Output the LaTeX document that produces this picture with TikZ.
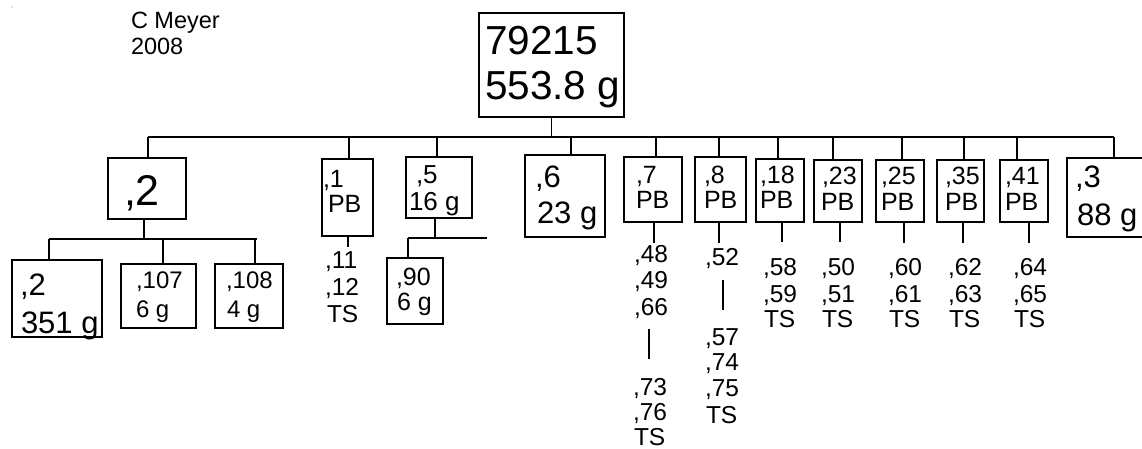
\documentclass[tikz,border=0pt]{standalone}
\usepackage{fontspec}
\setmainfont{Liberation Sans}
\tikzset{
  ln/.style={line width=1.2pt},
  box/.style={draw, line width=1.2pt, inner sep=0pt, outer sep=0pt, anchor=north west},
  tx/.style={anchor=base west, inner sep=0pt, outer sep=0pt},
  fa/.style={font=\fontsize{23.5}{26}\selectfont},
  fb/.style={font=\fontsize{40.5}{44}\selectfont},
  fc/.style={font=\fontsize{43}{44}\selectfont},
  fd/.style={font=\fontsize{31}{36}\selectfont},
  fe/.style={font=\fontsize{24}{28}\selectfont},
  f5/.style={font=\fontsize{26}{28}\selectfont},
  f9/.style={font=\fontsize{25}{28}\selectfont},
  ff/.style={font=\fontsize{25}{25}\selectfont},
  fg/.style={font=\fontsize{24.5}{26}\selectfont},
}
\newcommand\putline[5][]{\node[tx,#1] (#2) at (#3,#4) {#5};}
\begin{document}
\begin{tikzpicture}[x=1pt,y=-1pt]
\useasboundingbox (0,0) rectangle (1142,449);
\clip (0,0) rectangle (1142,449);
\fill[gray] (12,7) circle (0.6);
% header
\putline[fa]{m1}{131}{29}{C Meyer}
\putline[fa]{m2}{131}{55}{2008}
% boxes
\node[box, minimum width=145pt, minimum height=104pt] (top) at (479,13) {};
\node[box, minimum width=78pt, minimum height=61pt] (b2) at (108,158) {};
\node[box, minimum width=90pt, minimum height=77pt] (b2s) at (12,260) {};
\node[box, minimum width=75pt, minimum height=64pt] (b107) at (121,264) {};
\node[box, minimum width=68pt, minimum height=64pt] (b108) at (215,264) {};
\node[box, minimum width=51pt, minimum height=77pt] (b1) at (322,159) {};
\node[box, minimum width=66pt, minimum height=61pt] (b5) at (406,157) {};
\node[box, minimum width=56pt, minimum height=66pt] (b90) at (387,258) {};
\node[box, minimum width=80pt, minimum height=82pt] (b6) at (525,155) {};
\node[box, minimum width=58pt, minimum height=65pt] (b7) at (624,157) {};
\node[box, minimum width=51pt, minimum height=65pt] (b8) at (695,157) {};
\node[box, minimum width=48pt, minimum height=63pt] (b18) at (756,159) {};
\node[box, minimum width=48pt, minimum height=62pt] (b23) at (814,160) {};
\node[box, minimum width=48pt, minimum height=62pt] (b25) at (876,160) {};
\node[box, minimum width=47pt, minimum height=62pt] (b35) at (937,160) {};
\node[box, minimum width=48pt, minimum height=62pt] (b41) at (1000,160) {};
\node[box, minimum width=100pt, minimum height=79pt] (b3) at (1067,158) {};
% box texts
\putline[fb]{top1}{485}{55}{79215}
\putline[fb]{top2}{485}{100}{553.8 g}
\putline[fc]{b2t}{124}{205}{,2}
\putline[fd]{b2s1}{20}{295}{,2}
\putline[fd]{b2s2}{21}{333}{351 g}
\putline[fe]{b107a}{136}{288}{,107}
\putline[fe]{b107b}{136}{317}{6 g}
\putline[fe]{b108a}{226}{288}{,108}
\putline[fe]{b108b}{227}{317}{4 g}
\putline[ff]{b1a}{323}{187}{,1}
\putline[ff]{b1b}{328}{212}{PB}
\putline[f5]{b5a}{416}{183}{,5}
\putline[f5]{b5b}{409}{210}{16 g}
\putline[f9]{b90a}{396}{285}{,90}
\putline[f9]{b90b}{397}{310}{6 g}
\putline[fd]{b6a}{535}{188}{,6}
\putline[fd]{b6b}{537}{223}{23 g}
\putline[ff]{b7a}{636}{183}{,7}
\putline[ff]{b7b}{636}{208}{PB}
\putline[ff]{b8a}{704}{183}{,8}
\putline[ff]{b8b}{704}{208}{PB}
\putline[ff]{b18a}{760}{183}{,18}
\putline[ff]{b18b}{760}{208}{PB}
\putline[ff]{b23a}{822}{185}{,23}
\putline[ff]{b23b}{821}{210}{PB}
\putline[ff]{b25a}{881}{185}{,25}
\putline[ff]{b25b}{881}{210}{PB}
\putline[ff]{b35a}{945}{185}{,35}
\putline[ff]{b35b}{945}{210}{PB}
\putline[ff]{b41a}{1005}{185}{,41}
\putline[ff]{b41b}{1005}{210}{PB}
\putline[fd]{b3a}{1075}{187}{,3}
\putline[fd]{b3b}{1077}{225}{88 g}
% lists
\putline[fg]{l1a}{325}{268}{,11}
\putline[fg]{l1b}{325}{295}{,12}
\putline[fg]{l1c}{327}{322}{TS}
\putline[fg]{l7a}{634}{262}{,48}
\putline[fg]{l7b}{634}{288}{,49}
\putline[fg]{l7c}{634}{315}{,66}
\putline[fg]{l7d}{633}{395}{,73}
\putline[fg]{l7e}{633}{420}{,76}
\putline[fg]{l7f}{634}{445}{TS}
\putline[fg]{l8a}{705}{265}{,52}
\putline[fg]{l8b}{705}{345}{,57}
\putline[fg]{l8c}{705}{370}{,74}
\putline[fg]{l8d}{705}{396}{,75}
\putline[fg]{l8e}{706}{423}{TS}
\putline[fg]{l18a}{763}{275}{,58}
\putline[fg]{l18b}{763}{302}{,59}
\putline[fg]{l18c}{764}{327}{TS}
\putline[fg]{l23a}{821}{275}{,50}
\putline[fg]{l23b}{821}{302}{,51}
\putline[fg]{l23c}{822}{327}{TS}
\putline[fg]{l25a}{888}{275}{,60}
\putline[fg]{l25b}{888}{302}{,61}
\putline[fg]{l25c}{889}{327}{TS}
\putline[fg]{l35a}{948}{275}{,62}
\putline[fg]{l35b}{948}{302}{,63}
\putline[fg]{l35c}{949}{327}{TS}
\putline[fg]{l41a}{1013}{275}{,64}
\putline[fg]{l41b}{1013}{302}{,65}
\putline[fg]{l41c}{1014}{327}{TS}
% bus coordinates
\coordinate (busL) at (148,137);
\coordinate (busR) at (1114,137);
\coordinate (bus2L) at (49,239);
\coordinate (bus2R) at (257,239);
\coordinate (bus5L) at (408,238);
\coordinate (bus5R) at (487,238);
\coordinate (e1) at (348,247);
\coordinate (e7) at (654,243);
\coordinate (e8) at (719,243);
\coordinate (e18) at (782,242);
\coordinate (e23) at (840,242);
\coordinate (e25) at (904,243);
\coordinate (e35) at (963,243);
\coordinate (e41) at (1029,243);
\coordinate (g7a) at (649,329);
\coordinate (g7b) at (649,359);
\coordinate (g8a) at (723,280);
\coordinate (g8b) at (723,310);
% connectors
\draw[ln] (top.south) -- (top.south |- busL);
\draw[ln] (busL) -- (busR);
\draw[ln] ([xshift=40pt]b2.north west) -- ([xshift=40pt]b2.north west |- busL);
\draw[ln] ([xshift=27pt]b1.north west) -- ([xshift=27pt]b1.north west |- busL);
\draw[ln] ([xshift=31pt]b5.north west) -- ([xshift=31pt]b5.north west |- busL);
\draw[ln] ([xshift=46pt]b6.north west) -- ([xshift=46pt]b6.north west |- busL);
\draw[ln] ([xshift=32pt]b7.north west) -- ([xshift=32pt]b7.north west |- busL);
\draw[ln] ([xshift=24pt]b8.north west) -- ([xshift=24pt]b8.north west |- busL);
\draw[ln] ([xshift=22pt]b18.north west) -- ([xshift=22pt]b18.north west |- busL);
\draw[ln] ([xshift=19pt]b23.north west) -- ([xshift=19pt]b23.north west |- busL);
\draw[ln] ([xshift=26pt]b25.north west) -- ([xshift=26pt]b25.north west |- busL);
\draw[ln] ([xshift=27pt]b35.north west) -- ([xshift=27pt]b35.north west |- busL);
\draw[ln] ([xshift=17pt]b41.north west) -- ([xshift=17pt]b41.north west |- busL);
\draw[ln] ([xshift=47pt]b3.north west) -- ([xshift=47pt]b3.north west |- busL);
% sub tree of ,2
\draw[ln] ([xshift=36pt]b2.south west) -- ([xshift=36pt]b2.south west |- bus2L);
\draw[ln] (bus2L) -- (bus2R);
\draw[ln] ([xshift=37pt]b2s.north west) -- ([xshift=37pt]b2s.north west |- bus2L);
\draw[ln] ([xshift=42pt]b107.north west) -- ([xshift=42pt]b107.north west |- bus2L);
\draw[ln] ([xshift=40pt]b108.north west) -- ([xshift=40pt]b108.north west |- bus2L);
% sub tree of ,5
\draw[ln] ([xshift=29pt]b5.south west) -- ([xshift=29pt]b5.south west |- bus5L);
\draw[ln] (bus5L) -- (bus5R);
\draw[ln] ([xshift=21pt]b90.north west) -- ([xshift=21pt]b90.north west |- bus5L);
% stems below PB boxes
\draw[ln] (b1.south -| e1) -- (e1);
\draw[ln] (b7.south -| e7) -- (e7);
\draw[ln] (b8.south -| e8) -- (e8);
\draw[ln] (b18.south -| e18) -- (e18);
\draw[ln] (b23.south -| e23) -- (e23);
\draw[ln] (b25.south -| e25) -- (e25);
\draw[ln] (b35.south -| e35) -- (e35);
\draw[ln] (b41.south -| e41) -- (e41);
\draw[ln] (g7a) -- (g7b);
\draw[ln] (g8a) -- (g8b);
\end{tikzpicture}
\end{document}
